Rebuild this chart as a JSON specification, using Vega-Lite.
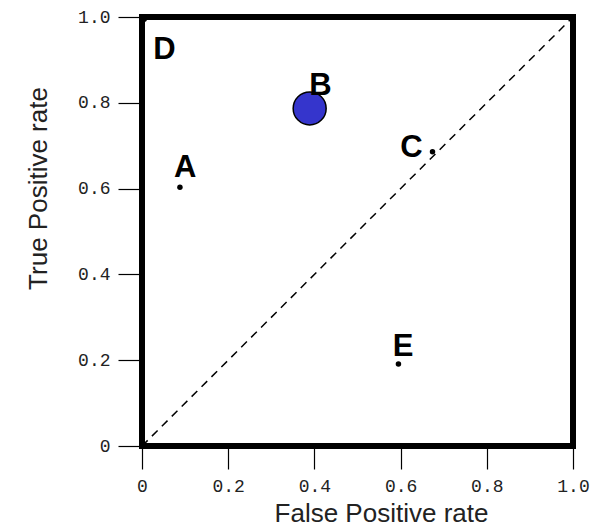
{
  "$schema": "https://vega.github.io/schema/vega-lite/v6.json",
  "width": 431,
  "height": 429,
  "autosize": {"type": "none"},
  "padding": {"left": 142, "top": 17, "right": 19, "bottom": 80},
  "background": "white",
  "config": {
    "view": {"stroke": "black", "strokeWidth": 6},
    "axis": {
      "grid": false,
      "domain": false,
      "tickColor": "black",
      "tickWidth": 1.2,
      "labelFont": "Liberation Mono",
      "labelFontSize": 18,
      "labelColor": "#222",
      "labelFlush": false,
      "labelOverlap": false,
      "titleFont": "Liberation Sans",
      "titleFontSize": 26,
      "titleFontWeight": "normal",
      "titleColor": "#222"
    }
  },
  "datasets": {
    "points": [
      {"name": "A", "fpr": 0.088, "tpr": 0.603, "lx": 0.100, "ly": 0.627},
      {"name": "B", "fpr": 0.389, "tpr": 0.787, "lx": 0.414, "ly": 0.818},
      {"name": "C", "fpr": 0.674, "tpr": 0.686, "lx": 0.625, "ly": 0.674},
      {"name": "D", "fpr": 0.005, "tpr": 0.995, "lx": 0.052, "ly": 0.901},
      {"name": "E", "fpr": 0.595, "tpr": 0.191, "lx": 0.606, "ly": 0.209}
    ],
    "diagonal": [
      {"fpr": 0, "tpr": 0},
      {"fpr": 1, "tpr": 1}
    ]
  },
  "layer": [
    {
      "data": {"name": "diagonal"},
      "mark": {"type": "line", "color": "black", "strokeWidth": 1.5, "strokeDash": [8, 6]},
      "encoding": {
        "x": {
          "field": "fpr", "type": "quantitative",
          "scale": {"domain": [0, 1], "nice": false},
          "axis": {
            "title": "False Positive rate",
            "values": [0, 0.2, 0.4, 0.6, 0.8, 1.0],
            "labelExpr": "datum.value == 0 ? '0' : format(datum.value, '.1f')",
            "tickSize": 23,
            "labelPadding": 8,
            "titleX": 239,
            "titleY": 75,
            "titleBaseline": "alphabetic"
          }
        },
        "y": {
          "field": "tpr", "type": "quantitative",
          "scale": {"domain": [0, 1], "nice": false},
          "axis": {
            "title": "True Positive rate",
            "values": [0, 0.2, 0.4, 0.6, 0.8, 1.0],
            "labelExpr": "datum.value == 0 ? '0' : format(datum.value, '.1f')",
            "tickSize": 24,
            "labelPadding": 8,
            "titleX": -96,
            "titleY": 171,
            "titleBaseline": "alphabetic",
            "titleAngle": -90
          }
        }
      }
    },
    {
      "data": {"name": "points"},
      "transform": [{"filter": "datum.name != 'B'"}],
      "mark": {"type": "circle", "color": "black", "opacity": 1, "size": 30},
      "encoding": {
        "x": {"field": "fpr", "type": "quantitative"},
        "y": {"field": "tpr", "type": "quantitative"}
      }
    },
    {
      "data": {"name": "points"},
      "transform": [{"filter": "datum.name == 'B'"}],
      "mark": {"type": "point", "shape": "circle", "filled": true, "fill": "#3535cc", "stroke": "black", "strokeWidth": 1.5, "opacity": 1, "size": 1089},
      "encoding": {
        "x": {"field": "fpr", "type": "quantitative"},
        "y": {"field": "tpr", "type": "quantitative"}
      }
    },
    {
      "data": {"name": "points"},
      "mark": {"type": "text", "font": "Liberation Sans", "fontWeight": "bold", "fontSize": 31, "color": "black", "align": "center", "baseline": "alphabetic"},
      "encoding": {
        "x": {"field": "lx", "type": "quantitative"},
        "y": {"field": "ly", "type": "quantitative"},
        "text": {"field": "name"}
      }
    }
  ]
}
